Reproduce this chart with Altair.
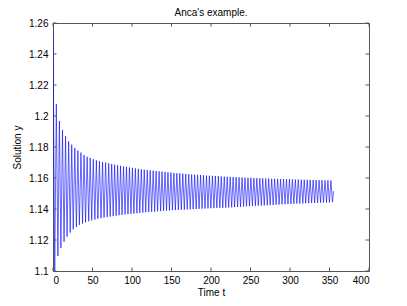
import altair as alt
import pandas as pd

# ---- data: local maxima / minima of the solution ----
peak_t = [0.0, 4.2, 8.1, 12.0, 15.9, 19.8, 23.7, 27.6, 31.5, 35.4, 39.3, 43.2, 47.1, 51.0, 54.9,
          58.8, 62.7, 66.6, 70.5, 74.3, 78.0, 81.8, 85.5, 89.3, 93.0, 96.8, 100.5, 104.3, 108.0,
          111.8, 115.5, 119.3, 123.0, 126.8, 130.5, 134.3, 138.0, 141.8, 145.5, 149.3, 153.0,
          156.8, 160.5, 164.3, 168.0, 171.8, 175.5, 179.3, 183.0, 186.8, 190.5, 194.3, 198.0,
          201.8, 205.5, 209.3, 213.0, 216.8, 220.5, 224.3, 228.0, 231.8, 235.5, 239.3, 243.0,
          246.8, 250.5, 254.3, 258.0, 261.8, 265.5, 269.3, 273.0, 276.8, 280.5, 284.3, 288.0,
          291.8, 295.5, 299.3, 303.0, 306.8, 310.5, 314.3, 318.0, 321.8, 325.5, 329.3, 333.0,
          336.8, 340.5, 344.3, 348.0, 351.8]
peak_y = [1.2555, 1.2077, 1.1968, 1.1910, 1.1870, 1.1837, 1.1815, 1.1794, 1.1777, 1.1764, 1.1748,
          1.1737, 1.1729, 1.1721, 1.1714, 1.1709, 1.1703, 1.1699, 1.1695, 1.1690, 1.1686, 1.1682,
          1.1678, 1.1674, 1.1671, 1.1668, 1.1665, 1.1662, 1.1659, 1.1656, 1.1654, 1.1651, 1.1649,
          1.1647, 1.1645, 1.1643, 1.1641, 1.1639, 1.1637, 1.1635, 1.1633, 1.1631, 1.1630, 1.1628,
          1.1626, 1.1625, 1.1623, 1.1622, 1.1620, 1.1619, 1.1618, 1.1616, 1.1615, 1.1614, 1.1613,
          1.1612, 1.1610, 1.1609, 1.1608, 1.1607, 1.1606, 1.1605, 1.1604, 1.1603, 1.1602, 1.1601,
          1.1601, 1.1600, 1.1599, 1.1598, 1.1597, 1.1597, 1.1596, 1.1595, 1.1595, 1.1594, 1.1593,
          1.1593, 1.1592, 1.1592, 1.1591, 1.1590, 1.1590, 1.1589, 1.1589, 1.1588, 1.1588, 1.1587,
          1.1587, 1.1586, 1.1586, 1.1585, 1.1585, 1.1584]
trough_t = [2.2, 6.2, 10.0, 14.0, 17.8, 21.8, 25.6, 29.6, 33.4, 37.4, 41.2, 45.2, 49.0, 53.0,
            56.8, 60.8, 64.6, 68.6, 72.4, 76.2, 79.9, 83.7, 87.4, 91.2, 94.9, 98.7, 102.4, 106.2,
            109.9, 113.7, 117.4, 121.2, 124.9, 128.7, 132.4, 136.2, 139.9, 143.7, 147.4, 151.2,
            154.9, 158.7, 162.4, 166.2, 169.9, 173.7, 177.4, 181.2, 184.9, 188.7, 192.4, 196.2,
            199.9, 203.7, 207.4, 211.2, 214.9, 218.7, 222.4, 226.2, 229.9, 233.7, 237.4, 241.2,
            244.9, 248.7, 252.4, 256.2, 259.9, 263.7, 267.4, 271.2, 274.9, 278.7, 282.4, 286.2,
            289.9, 293.7, 297.4, 301.2, 304.9, 308.7, 312.4, 316.2, 319.9, 323.7, 327.4, 331.2,
            334.9, 338.7, 342.4, 346.2, 349.9, 353.7]
trough_y = [1.1002, 1.1097, 1.1148, 1.1189, 1.1222, 1.1248, 1.1269, 1.1284, 1.1297, 1.1306,
            1.1314, 1.1321, 1.1327, 1.1332, 1.1337, 1.1341, 1.1345, 1.1348, 1.1351, 1.1354,
            1.1357, 1.1360, 1.1362, 1.1365, 1.1367, 1.1369, 1.1371, 1.1373, 1.1375, 1.1377,
            1.1379, 1.1380, 1.1382, 1.1383, 1.1385, 1.1386, 1.1388, 1.1389, 1.1390, 1.1392,
            1.1393, 1.1394, 1.1395, 1.1396, 1.1397, 1.1398, 1.1399, 1.1400, 1.1401, 1.1402,
            1.1403, 1.1404, 1.1405, 1.1406, 1.1407, 1.1408, 1.1408, 1.1409, 1.1410, 1.1411,
            1.1412, 1.1413, 1.1414, 1.1416, 1.1417, 1.1418, 1.1419, 1.1420, 1.1421, 1.1422,
            1.1423, 1.1424, 1.1425, 1.1426, 1.1428, 1.1429, 1.1430, 1.1431, 1.1432, 1.1433,
            1.1434, 1.1435, 1.1435, 1.1436, 1.1437, 1.1438, 1.1439, 1.1439, 1.1440, 1.1441,
            1.1442, 1.1442, 1.1443, 1.1444]
end_t = [355.2]
end_y = [1.1515]

x_ticks = [0, 50, 100, 150, 200, 250, 300, 350, 400]
y_ticks = [1.1, 1.12, 1.14, 1.16, 1.18, 1.2, 1.22, 1.24, 1.26]

rows = sorted(zip(peak_t + trough_t + end_t, peak_y + trough_y + end_y))
df = pd.DataFrame(rows, columns=["t", "y"])

W, H = 316, 248
TL = 3.5
AX = "#555555"
FONT = "Liberation Sans"

xs = alt.Scale(domain=[0, 400], nice=False, zero=False)
ys = alt.Scale(domain=[1.1, 1.26], nice=False, zero=False)
x_axis = alt.Axis(values=x_ticks, title="Time t", ticks=False, domain=False, grid=False,
                  labelPadding=4, titlePadding=2, labelFont=FONT, labelFontSize=10,
                  labelColor="black", titleFont=FONT, titleFontSize=10,
                  titleFontWeight="normal", titleColor="black")
y_axis = alt.Axis(values=y_ticks, format=".2~f", title="Solution y", ticks=False,
                  domain=False, grid=False, labelPadding=5, titlePadding=6, labelFont=FONT,
                  labelFontSize=10, labelColor="black", titleFont=FONT, titleFontSize=10,
                  titleFontWeight="normal", titleColor="black")

line = alt.Chart(df).mark_line(color="#0000ff", strokeWidth=0.6, clip=True).encode(
    x=alt.X("t:Q", scale=xs, axis=x_axis),
    y=alt.Y("y:Q", scale=ys, axis=y_axis),
)

xt = pd.DataFrame({"v": x_ticks})
yt = pd.DataFrame({"v": y_ticks})

xb = alt.Chart(xt).mark_rule(color=AX, strokeWidth=1).encode(
    x=alt.X("v:Q", scale=xs, axis=x_axis), y=alt.value(H), y2=alt.value(H - TL))
xtp = alt.Chart(xt).mark_rule(color=AX, strokeWidth=1).encode(
    x=alt.X("v:Q", scale=xs, axis=x_axis), y=alt.value(0), y2=alt.value(TL))
yl = alt.Chart(yt).mark_rule(color=AX, strokeWidth=1).encode(
    y=alt.Y("v:Q", scale=ys, axis=y_axis), x=alt.value(0), x2=alt.value(TL))
yr = alt.Chart(yt).mark_rule(color=AX, strokeWidth=1).encode(
    y=alt.Y("v:Q", scale=ys, axis=y_axis), x=alt.value(W), x2=alt.value(W - TL))

chart = alt.layer(line, xb, xtp, yl, yr).properties(
    width=W, height=H,
    background="white",
    title=alt.TitleParams("Anca's example.", font=FONT, fontSize=10, fontWeight="normal",
                          color="black", offset=0),
    autosize=alt.AutoSizeParams(type="none"),
    padding={"left": 45, "top": 15, "right": 30, "bottom": 27},
).configure_view(stroke=AX, strokeWidth=1)

chart.save("out.html", embed_options={"renderer": "svg", "actions": False})
